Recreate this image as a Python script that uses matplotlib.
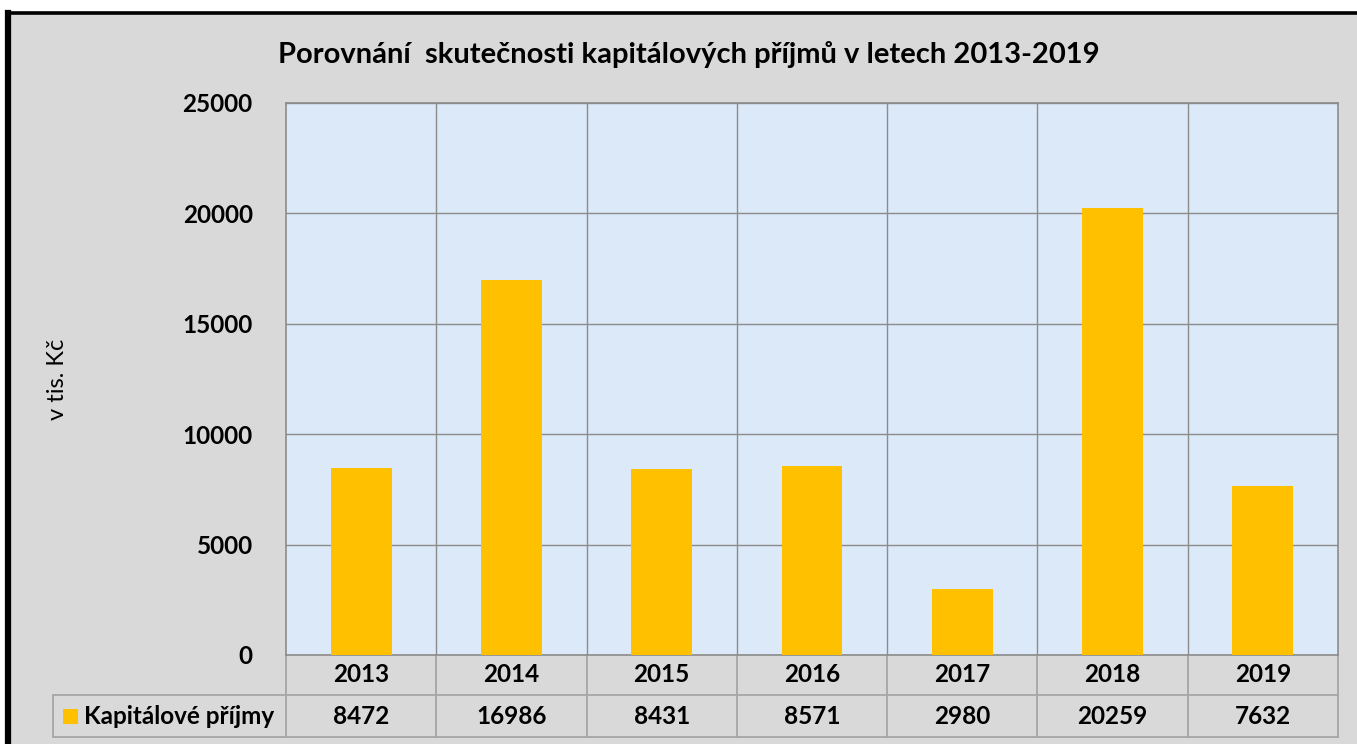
import matplotlib
matplotlib.use("Agg")
import matplotlib.pyplot as plt
from matplotlib.patches import Rectangle
from matplotlib.lines import Line2D
import matplotlib.transforms as mtransforms

years = ["2013", "2014", "2015", "2016", "2017", "2018", "2019"]
values = [8472, 16986, 8431, 8571, 2980, 20259, 7632]
series_name = "Kapitálové příjmy"
title = "Porovnání  skutečnosti kapitálových příjmů v letech 2013-2019"
ylabel = "v tis. Kč"
yticks = [0, 5000, 10000, 15000, 20000, 25000]

W, H = 1357, 744
DPI = 100
plt.rcParams['font.family'] = ['Lato', 'DejaVu Sans']
FS = 17.5

fig = plt.figure(figsize=(W / DPI, H / DPI), dpi=DPI, facecolor="white")

def fx(px):
    return px / W

def fy(py):
    return 1 - py / H

# gray panel with black border
fig.patches.append(Rectangle((fx(8), 0), 1 - fx(8), fy(12), transform=fig.transFigure,
                             facecolor="#d9d9d9", edgecolor="none", zorder=-5))
fig.lines.append(Line2D([fx(8), fx(8)], [0, fy(12.5)], transform=fig.transFigure,
                        color="black", lw=4.5, solid_capstyle="projecting"))
fig.lines.append(Line2D([fx(8), 1], [fy(12.5), fy(12.5)], transform=fig.transFigure,
                        color="black", lw=2.6))

L, R, T, B = 286, 1338, 103, 655
ax = fig.add_axes([fx(L), fy(B), fx(R - L), (B - T) / H], zorder=1)
ax.set_facecolor("#dce9f8")
grid_c = "#8c8c8c"
x = list(range(len(years)))
ax.bar(x, values, width=0.405, color="#ffc000", zorder=3)
ax.set_xlim(-0.5, len(years) - 0.5)
ax.set_ylim(0, 25000)
ax.set_yticks(yticks)
ax.set_yticklabels([str(t) for t in yticks], fontsize=FS, fontweight="bold")
ax.tick_params(axis="y", length=0, pad=24)
ax.set_xticks([i + 0.5 for i in range(len(years) - 1)])
ax.set_xticklabels([])
ax.tick_params(axis="x", length=0)
ax.grid(True, color=grid_c, lw=1.0, zorder=1)
for s in ax.spines.values():
    s.set_color(grid_c)
    s.set_linewidth(1.2)
ax.set_axisbelow(True)

ax.set_ylabel(ylabel, fontsize=17, labelpad=0)
ax.yaxis.set_label_coords((68 - L) / (R - L), 0.5)

fig.text(fx(689), fy(55), title, fontsize=21, fontweight="bold", ha="center", va="center")

# data table
tr = mtransforms.blended_transform_factory(ax.transData, fig.transFigure)
row1_y = (fy(655), fy(695))
row2_y = (fy(695), fy(737))
tbl_c = "#a6a6a6"
kw = dict(transform=tr, color=tbl_c, lw=1.3, clip_on=False)
for i in range(len(years) + 1):
    xb = i - 0.5
    ax.add_line(Line2D([xb, xb], [row2_y[1], row1_y[0]], **kw))
ax.add_line(Line2D([-0.5, len(years) - 0.5], [row2_y[0]] * 2, **kw))
ax.add_line(Line2D([-0.5, len(years) - 0.5], [row2_y[1]] * 2, **kw))
for i, (yr, v) in enumerate(zip(years, values)):
    ax.text(i, (row1_y[0] + row1_y[1]) / 2, yr, transform=tr, ha="center", va="center",
            fontsize=FS, fontweight="bold", clip_on=False)
    ax.text(i, (row2_y[0] + row2_y[1]) / 2, str(v), transform=tr, ha="center", va="center",
            fontsize=FS, fontweight="bold", clip_on=False)

# legend cell
fkw = dict(transform=fig.transFigure, color=tbl_c, lw=1.3)
fig.lines.append(Line2D([fx(53), fx(286)], [row2_y[0]] * 2, **fkw))
fig.lines.append(Line2D([fx(53), fx(286)], [row2_y[1]] * 2, **fkw))
fig.lines.append(Line2D([fx(53), fx(53)], [row2_y[0], row2_y[1]], **fkw))
fig.patches.append(Rectangle((fx(63), fy(724)), fx(15), 15 / H, transform=fig.transFigure,
                             facecolor="#ffc000", edgecolor="none"))
fig.text(fx(84), (row2_y[0] + row2_y[1]) / 2, series_name, fontsize=FS, fontweight="bold",
         ha="left", va="center")

fig.savefig("out.png", dpi=DPI, facecolor="white")
